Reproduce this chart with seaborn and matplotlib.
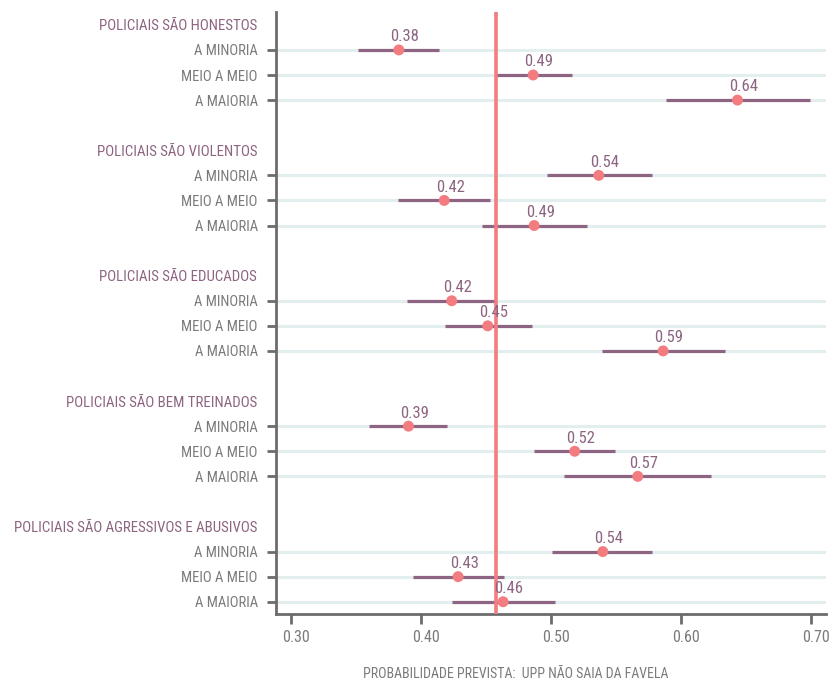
import matplotlib
matplotlib.use("Agg")
import matplotlib.pyplot as plt
import matplotlib.transforms as mtransforms
from matplotlib import font_manager
import pandas as pd
import seaborn as sns

# ---- data -------------------------------------------------------------
groups = [
    "POLICIAIS SÃO HONESTOS",
    "POLICIAIS SÃO VIOLENTOS",
    "POLICIAIS SÃO EDUCADOS",
    "POLICIAIS SÃO BEM TREINADOS",
    "POLICIAIS SÃO AGRESSIVOS E ABUSIVOS",
]
levels = ["A MINORIA", "MEIO A MEIO", "A MAIORIA"]

estimate = [0.3826, 0.4859, 0.6431,
            0.5364, 0.4175, 0.4867,
            0.4233, 0.4510, 0.5859,
            0.3900, 0.5179, 0.5664,
            0.5395, 0.4282, 0.4628]
lower = [0.3508, 0.4562, 0.5885,
         0.4964, 0.3823, 0.4464,
         0.3885, 0.4179, 0.5392,
         0.3600, 0.4869, 0.5100,
         0.5008, 0.3938, 0.4238]
upper = [0.4138, 0.5159, 0.6992,
         0.5775, 0.4528, 0.5275,
         0.4575, 0.4854, 0.6338,
         0.4200, 0.5492, 0.6231,
         0.5775, 0.4636, 0.5028]

reference_value = 0.457
x_ticks = [0.30, 0.40, 0.50, 0.60, 0.70]
x_tick_labels = ["0.30", "0.40", "0.50", "0.60", "0.70"]
x_label = "PROBABILIDADE PREVISTA:  UPP NÃO SAIA DA FAVELA"

# ---- row layout: a header row, three level rows and a gap per group ---
records = []
header_rows = []
row = 0
k = 0
for g in groups:
    header_rows.append(row)
    row += 1
    for lv in levels:
        records.append(dict(group=g, level=lv, row=row,
                            est=estimate[k], lo=lower[k], hi=upper[k]))
        row += 1
        k += 1
    row += 1
df = pd.DataFrame(records)

# ---- style ------------------------------------------------------------
PURPLE = "#8d6481"
SALMON = "#f27c80"
GRAY = "#7b7b7b"
SPINE = "#6c6c6c"
GRID = "#e3eeef"

sns.set_theme(style="white")
installed = {f.name for f in font_manager.fontManager.ttflist}
narrow = next((n for n in ["Roboto Condensed", "Liberation Sans Narrow",
                           "Open Sans Condensed"] if n in installed), None)
if narrow:
    plt.rcParams["font.family"] = [narrow, "DejaVu Sans"]
else:
    plt.rcParams["font.family"] = ["DejaVu Sans"]
    plt.rcParams["font.stretch"] = "condensed"

fig = plt.figure(figsize=(8.30, 6.81), dpi=100)
ax = fig.add_axes([276 / 830, 66.7 / 681, 550 / 830, 602 / 681])

# confidence intervals
ax.hlines(df["row"], df["lo"], df["hi"], color=PURPLE, lw=2.3, zorder=2)
# reference line
ax.axvline(reference_value, color=SALMON, lw=2.6, zorder=3)
# point estimates
sns.scatterplot(data=df, x="est", y="row", color=SALMON, s=62,
                edgecolor="none", linewidth=0, zorder=4, ax=ax, legend=False)

# value labels
for _, r in df.iterrows():
    ax.annotate(f"{r['est']:.2f}", (r["est"], r["row"]),
                xytext=(4.3, 6.2), textcoords="offset points",
                ha="center", va="baseline", color=PURPLE, fontsize=12,
                zorder=5)

# axes
ax.set_xlim(0.2881, 0.7112)
ax.set_ylim(23.5, -0.5)
ax.set_xticks(x_ticks)
ax.set_xticklabels(x_tick_labels)
ax.set_yticks(df["row"])
ax.set_yticklabels(df["level"])
ax.set_ylabel("")
ax.set_xlabel(x_label, color=GRAY, fontsize=10)
ax.xaxis.set_label_coords(0.435, -0.099)
ax.xaxis.label.set_verticalalignment("center")

ax.grid(axis="y", color=GRID, lw=2.2)
ax.grid(axis="x", visible=False)
ax.set_axisbelow(True)

sns.despine(ax=ax)
for side in ("left", "bottom"):
    ax.spines[side].set_color(SPINE)
    ax.spines[side].set_linewidth(2.0)

ax.tick_params(axis="y", length=6.7, width=2, color=SPINE, pad=6.5,
               labelcolor=GRAY, labelsize=10.5, left=True)
ax.tick_params(axis="x", length=7, width=2, color=SPINE, pad=4,
               labelcolor=GRAY, labelsize=11.5, bottom=True)
shift = mtransforms.ScaledTranslation(5 / 100, 0, fig.dpi_scale_trans)
for lab in ax.get_xticklabels():
    lab.set_transform(lab.get_transform() + shift)

# group headers
head_tr = ax.get_yaxis_transform() + mtransforms.ScaledTranslation(
    -19 / 100, 0, fig.dpi_scale_trans)
for g, hr in zip(groups, header_rows):
    ax.text(0, hr, g, transform=head_tr, ha="right", va="center_baseline",
            color=PURPLE, fontsize=10.7, clip_on=False)

fig.savefig("out.png", dpi=100)
